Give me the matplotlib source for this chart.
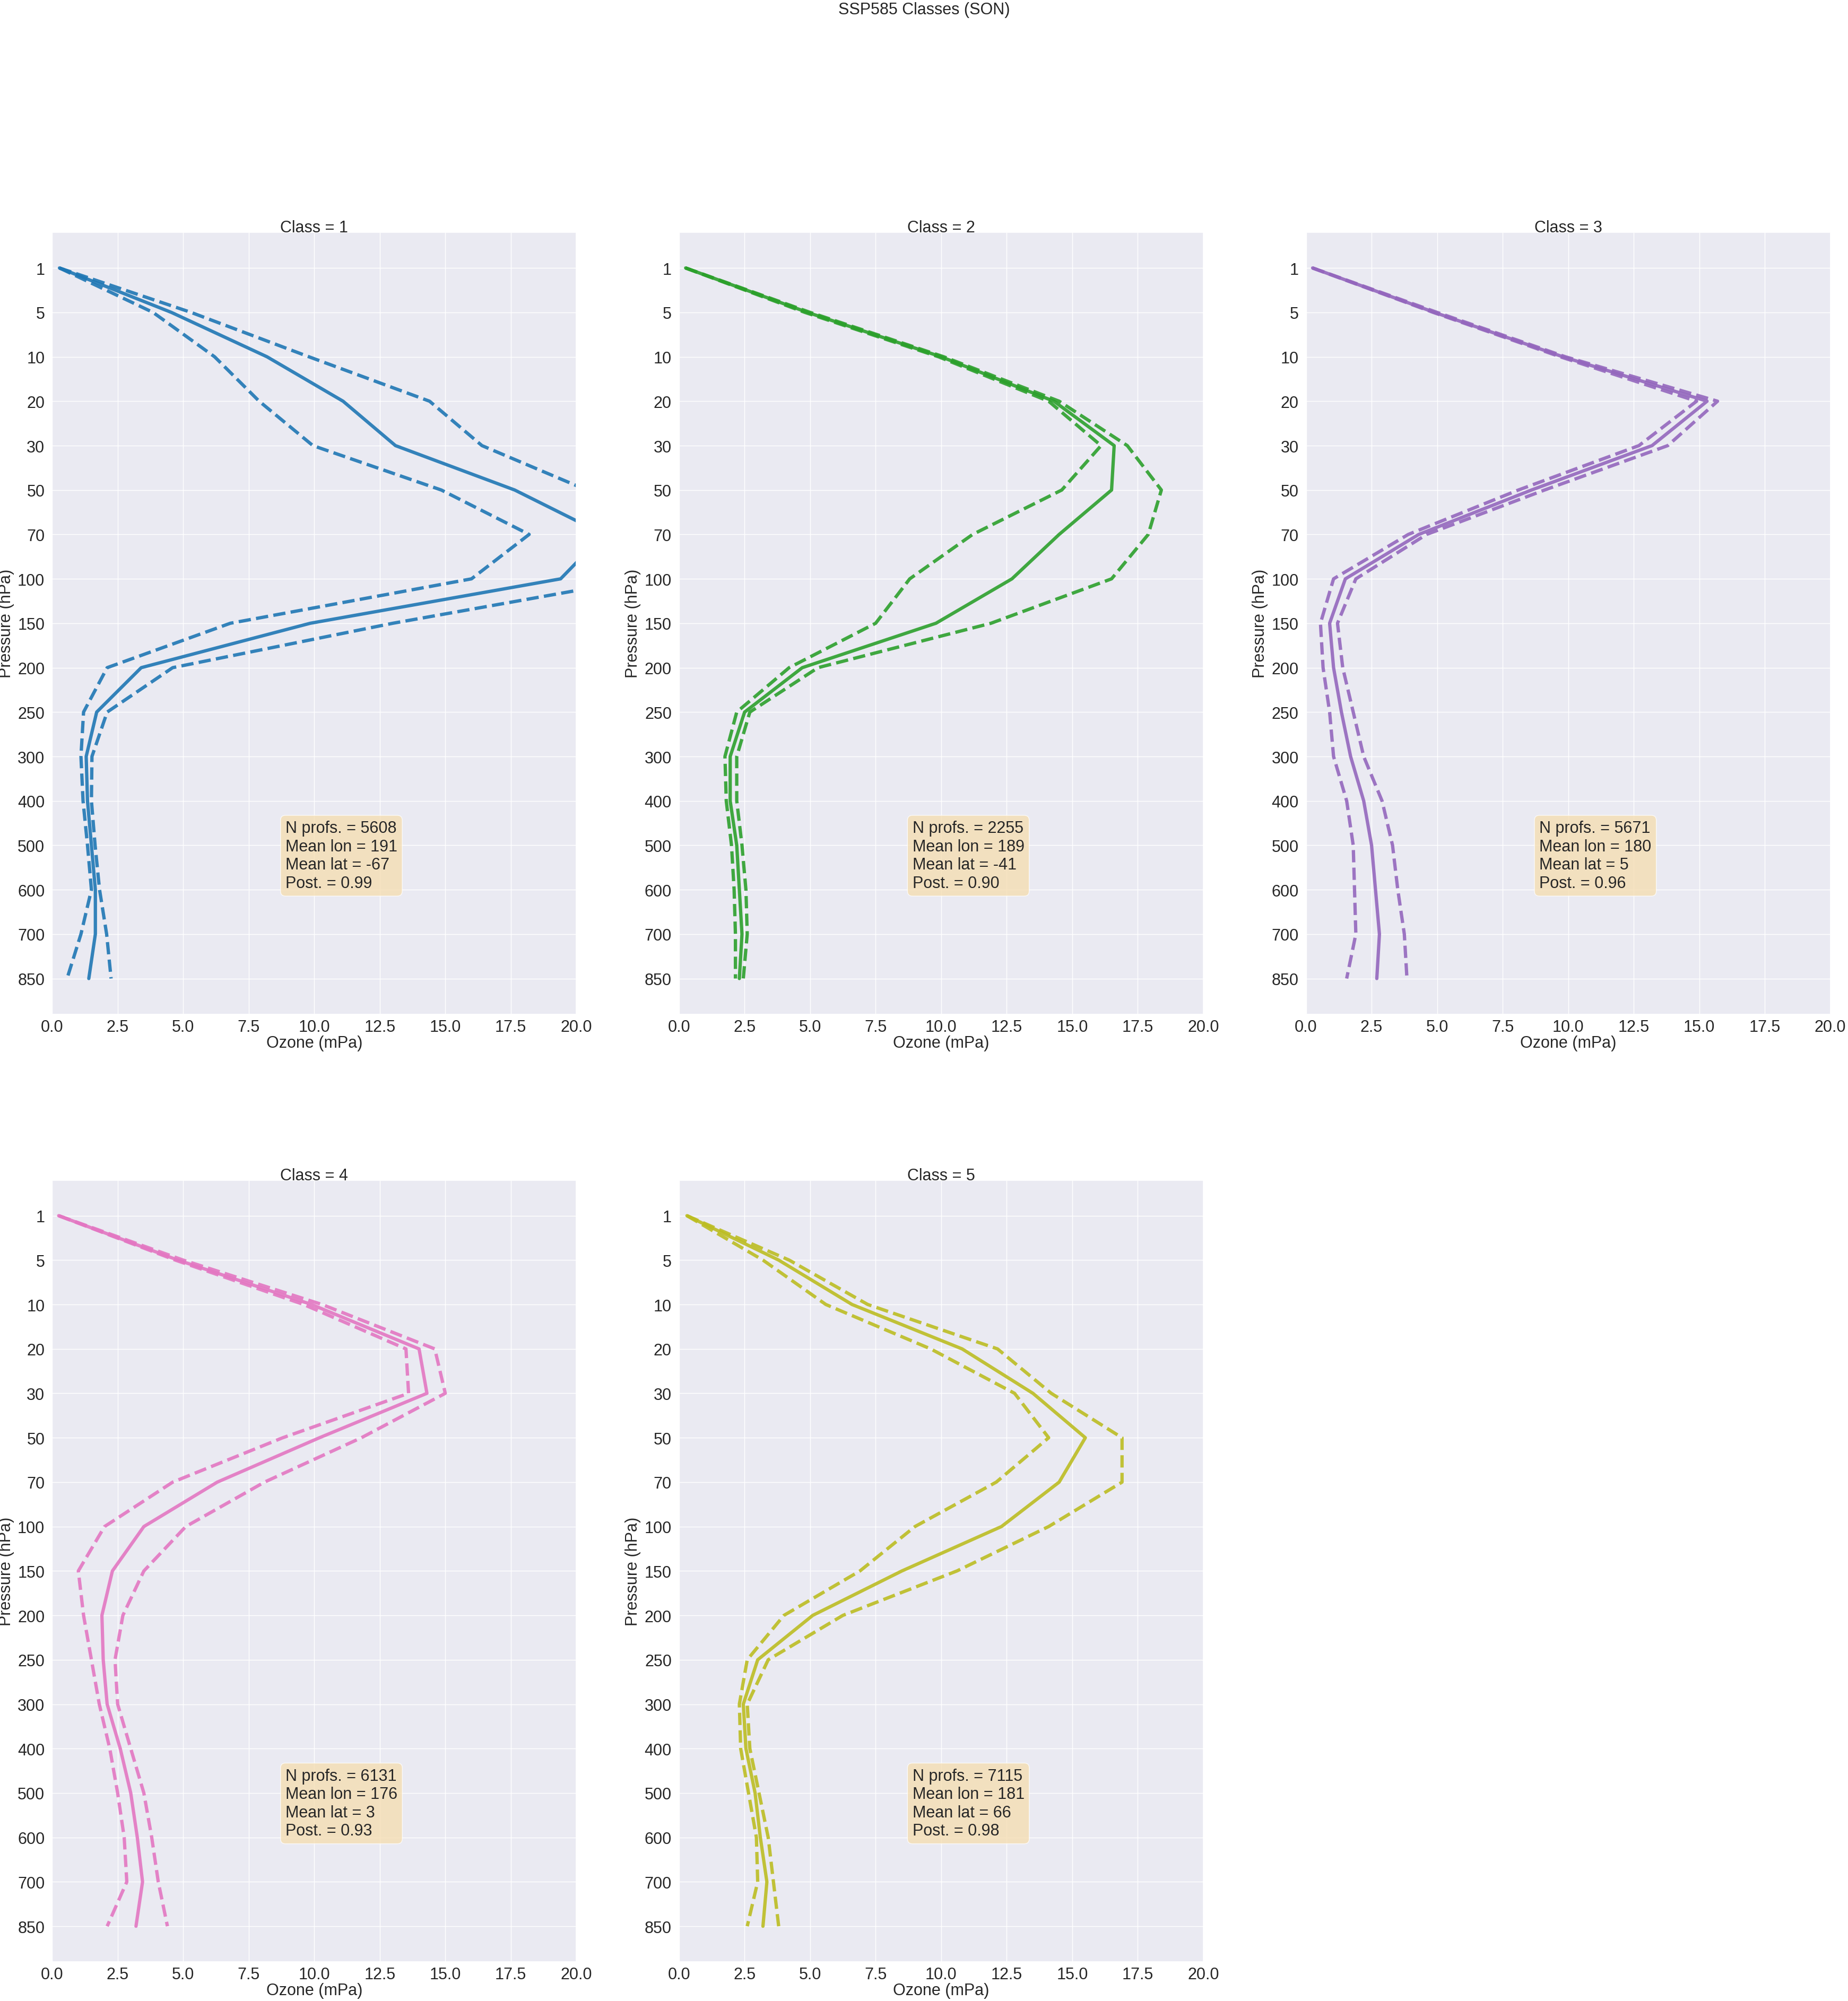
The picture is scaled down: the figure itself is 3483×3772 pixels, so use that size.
import numpy as np
import matplotlib
matplotlib.use('Agg')
import matplotlib.pyplot as plt
import seaborn as sns

sns.set_theme(style='darkgrid')
plt.rcParams['font.family'] = ['Liberation Sans', 'DejaVu Sans']

levels = [1, 5, 10, 20, 30, 50, 70, 100, 150, 200, 250, 300, 400, 500, 600, 700, 850]

# class 1
mean_c1 = [0.28, 4.55, 8.2, 11.1, 13.1, 17.65, 21.05, 19.4, 9.85, 3.4, 1.7, 1.3, 1.35, 1.5, 1.65, 1.65, 1.4]
lo_c1 = [0.28, 3.85, 6.2, 7.9, 9.95, 14.85, 18.2, 16.0, 6.8, 2.1, 1.2, 1.1, 1.18, 1.35, 1.5, 1.1, 0.57]
hi_c1 = [0.28, 5.3, 9.8, 14.4, 16.4, 20.4, 23.0, 22.5, 13.0, 4.6, 2.1, 1.52, 1.5, 1.64, 1.81, 2.08, 2.25]
# class 2
mean_c2 = [0.25, 4.9, 10.0, 14.3, 16.6, 16.5, 14.5, 12.7, 9.8, 4.7, 2.5, 1.95, 1.95, 2.2, 2.3, 2.4, 2.3]
lo_c2 = [0.25, 4.8, 9.9, 14.1, 16.1, 14.6, 11.2, 8.8, 7.5, 4.2, 2.2, 1.75, 1.8, 2.0, 2.1, 2.15, 2.15]
hi_c2 = [0.25, 5.0, 10.1, 14.5, 17.1, 18.4, 17.9, 16.5, 11.9, 5.3, 2.7, 2.2, 2.2, 2.4, 2.55, 2.6, 2.45]
# class 3
mean_c3 = [0.25, 4.9, 9.8, 15.3, 13.2, 8.6, 4.3, 1.5, 0.9, 1.05, 1.35, 1.7, 2.2, 2.5, 2.65, 2.8, 2.7]
lo_c3 = [0.25, 4.85, 9.7, 14.9, 12.7, 8.1, 3.9, 1.05, 0.55, 0.65, 0.9, 1.05, 1.55, 1.8, 1.85, 1.9, 1.55]
hi_c3 = [0.25, 5.0, 9.9, 15.7, 13.8, 9.1, 4.6, 1.9, 1.2, 1.4, 1.8, 2.2, 2.9, 3.3, 3.5, 3.75, 3.85]
# class 4
mean_c4 = [0.25, 4.8, 9.9, 14.0, 14.3, 10.2, 6.3, 3.5, 2.3, 1.9, 1.95, 2.1, 2.6, 3.0, 3.25, 3.45, 3.2]
lo_c4 = [0.25, 4.7, 9.6, 13.5, 13.6, 8.8, 4.6, 2.0, 1.0, 1.2, 1.5, 1.8, 2.2, 2.5, 2.75, 2.85, 2.1]
hi_c4 = [0.25, 5.0, 10.3, 14.6, 15.0, 11.8, 8.1, 5.1, 3.5, 2.7, 2.4, 2.5, 3.0, 3.5, 3.8, 4.05, 4.4]
# class 5
mean_c5 = [0.3, 3.8, 6.6, 10.8, 13.5, 15.5, 14.5, 12.3, 8.5, 5.1, 3.0, 2.45, 2.55, 2.9, 3.1, 3.35, 3.2]
lo_c5 = [0.3, 3.2, 5.6, 9.6, 12.8, 14.1, 12.1, 9.0, 6.9, 4.0, 2.6, 2.3, 2.35, 2.65, 2.95, 3.0, 2.6]
hi_c5 = [0.3, 4.2, 7.2, 12.15, 14.2, 16.9, 16.9, 14.1, 10.6, 6.25, 3.4, 2.6, 2.7, 3.05, 3.4, 3.6, 3.8]

n_profs = [5608, 2255, 5671, 6131, 7115]
mean_lon = [191, 189, 180, 176, 181]
mean_lat = [-67, -41, 5, 3, 66]
post = [0.99, 0.90, 0.96, 0.93, 0.98]

means = [mean_c1, mean_c2, mean_c3, mean_c4, mean_c5]
lows = [lo_c1, lo_c2, lo_c3, lo_c4, lo_c5]
highs = [hi_c1, hi_c2, hi_c3, hi_c4, hi_c5]
colors = ['tab:blue', 'tab:green', 'tab:purple', 'tab:pink', 'tab:olive']

fs = 22
lw = 4.5
fig, axarr = plt.subplots(2, 3, figsize=(34.83, 37.73), dpi=100)
fig.subplots_adjust(left=0.0282, right=0.9904, bottom=0.0196, top=0.8836,
                    wspace=0.196, hspace=0.2125)
ypos = np.arange(len(levels))

for k in range(5):
    ax = axarr.flat[k]
    ax.plot(means[k], ypos, color=colors[k], lw=lw, alpha=0.9)
    ax.plot(lows[k], ypos, color=colors[k], lw=lw, ls='--', alpha=0.9)
    ax.plot(highs[k], ypos, color=colors[k], lw=lw, ls='--', alpha=0.9)
    ax.set_xlim(0, 20)
    ax.set_ylim(len(levels) - 1 + 0.8, -0.8)
    ax.set_yticks(ypos)
    ax.set_yticklabels([str(l) for l in levels])
    ax.set_xticks(np.arange(0, 20.1, 2.5))
    ax.set_xticklabels(['%.1f' % v for v in np.arange(0, 20.1, 2.5)])
    ax.tick_params(axis='x', labelsize=fs, pad=0.5)
    ax.tick_params(axis='y', labelsize=fs, pad=4)
    ax.set_xlabel('Ozone (mPa)', fontsize=fs, labelpad=0)
    ax.set_ylabel('Pressure (hPa)', fontsize=fs, labelpad=4.5)
    ax.set_title('Class = %d' % (k + 1), fontsize=fs, pad=0.5)
    txt = 'N profs. = %d\nMean lon = %d\nMean lat = %d\nPost. = %.2f' % (
        n_profs[k], mean_lon[k], mean_lat[k], post[k])
    ax.text(0.445, 0.248, txt, transform=ax.transAxes, fontsize=fs,
            va='top', ha='left',
            bbox=dict(boxstyle='round', facecolor='wheat', alpha=0.8))

axarr[1, 2].axis('off')
fig.suptitle('SSP585 Classes (SON)', fontsize=fs, y=0.999, va='top')
fig.savefig('out.png', dpi=100)
